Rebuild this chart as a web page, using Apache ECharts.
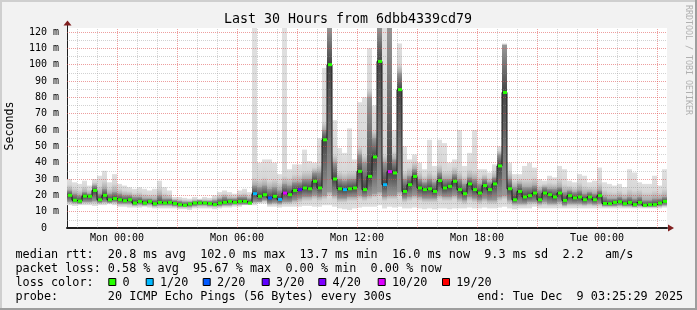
<!DOCTYPE html>
<html><head><meta charset="utf-8">
<script src="https://cdn.jsdelivr.net/npm/echarts@6/dist/echarts.min.js"></script>
<style>html,body{margin:0;padding:0;background:#f2f2f2}#c{width:697px;height:310px}</style>
</head><body><div id="c"></div>
<script>
// time: hours relative to Mon 00:00; left edge Sun 21:30, 15-minute steps
const T0 = -2.5;
const STEP = 0.25;

const median = [
  20, 17, 16.5, 19.5, 19.4, 23, 17.3, 20, 17.3, 18,
  17.3, 16.7, 17.3, 15.3, 16.3, 15.3, 16.3, 14.9, 15.7, 15.3,
  15.7, 15, 14.3, 13.9, 14.7, 15.3, 15.3, 15.3, 15, 14.3,
  15.3, 15.7, 16.3, 15.7, 16.3, 16.3, 15.3, 21, 19.4, 20.4,
  18.4, 19.4, 17.5, 21.4, 20.4, 23, 23.5, 24.5, 24, 28.6,
  24.5, 54, 100, 30, 24, 23.5, 24, 24.5, 34.7, 23.5,
  31.6, 43.5, 102, 26.5, 34.5, 33.7, 84.7, 22.4, 26.5, 31.6,
  24.5, 23.5, 24, 22.4, 29, 24.5, 25.5, 28.6, 23.5, 21,
  27, 23.5, 21.4, 26, 23.5, 27, 38, 83, 24, 17.3,
  22.4, 19, 19.8, 21.4, 17.3, 21.4, 20.4, 19, 21.4, 16.9,
  19.8, 18.4, 19, 17.3, 19, 17.3, 19.8, 15, 14.9, 15.7,
  16.1, 14.9, 15.7, 14.3, 15.7, 13.9, 14.3, 14.3, 15.3, 16.3
];
const smokeMax = [
  30, 28, 27, 29, 26, 30, 32, 35, 28, 33,
  27, 26, 25, 24, 25, 24, 23, 24, 29, 25,
  23, 19, 19, 18.5, 18, 19, 18, 19, 18.5, 20,
  22, 23, 22, 21, 23, 24, 22, 123, 40, 42,
  42, 40, 33, 123, 36, 39, 39, 48, 41, 40,
  55, 98, 123, 66, 49, 46, 61, 42, 77, 80,
  110, 75, 123, 123, 123, 60, 113, 50, 42, 45,
  40, 36, 54, 38, 54, 52, 40, 42, 60, 38,
  46, 60, 36, 36, 34, 39, 50, 113, 40, 33,
  33, 38, 40, 37, 30, 29, 32, 31, 38, 36,
  29, 28, 33, 32, 28, 29, 37, 28, 27, 26,
  27, 25, 36, 34, 28, 27, 27, 32, 26, 36
];
const smokeMin = [
  14, 13.5, 14, 14, 14, 13.5, 14, 14, 14.5, 14,
  13, 13, 12.5, 12.5, 12.5, 13, 12.5, 12, 12, 12,
  12, 12, 11.5, 11.5, 11, 12, 12, 12, 12, 11.5,
  12, 12.5, 12.5, 13, 13, 14, 14, 14, 15, 15,
  13, 13, 12.5, 13, 13, 13, 13, 13.5, 13.5, 13,
  13, 14, 14, 13, 12, 11.5, 11, 12, 12.5, 13,
  13, 13, 14, 12, 13, 12.5, 13, 12, 12, 12.5,
  12, 11.5, 12, 11.5, 12, 12, 11.5, 12, 12, 12,
  12.5, 12, 12, 12.5, 12, 12, 12.5, 13, 12, 11.5,
  12, 12, 12, 13, 12, 12, 12, 12, 12, 12,
  12, 12, 12, 12, 12, 12, 12, 12, 12, 12,
  12, 12, 12, 12, 12, 12, 12, 12, 12, 12.5
];
const coreHi = [
  23, 21, 20, 22, 21, 26, 21, 24, 21, 22,
  21, 20, 20, 19, 19, 18, 18, 17.5, 20, 18,
  18, 17, 16.5, 16, 16, 16.5, 17, 16.5, 16.5, 17,
  18, 19, 18, 18, 19, 19, 18, 26, 25, 26,
  24, 25, 23, 27, 26, 28, 28, 30, 30, 34,
  34, 60, 123, 40, 30, 29, 30, 30, 45, 40,
  80, 55, 123, 40, 123, 42, 95, 30, 32, 36,
  30, 28, 30, 28, 34, 30, 30, 33, 30, 27,
  31, 30, 27, 30, 28, 31, 45, 112, 30, 25,
  27, 25, 25, 26, 23, 25, 24, 24, 25, 22,
  23, 22, 23, 21, 22, 21, 23, 19, 18, 18,
  19, 18, 19, 18, 19, 17, 17, 18, 18, 19
];
const coreLo = [
  16, 15.5, 15, 16, 16, 16.5, 15.5, 16, 15.5, 16,
  15, 15, 15, 14, 14.5, 14, 14.5, 13.5, 14, 14,
  14, 13.5, 13, 13, 13, 13.5, 14, 14, 13.5, 13.5,
  13.5, 14, 14, 14.5, 14.5, 14.5, 14.5, 16, 16, 17,
  15, 15.5, 15, 16, 16, 17, 18, 19, 19, 20,
  19, 20, 22, 20, 18, 18, 19, 19, 20, 19,
  20, 21, 22, 19, 20, 20, 22, 18, 19, 20,
  19, 18, 18, 18, 20, 19, 19, 20, 18, 17,
  19, 18, 17, 18, 17, 17, 19, 20, 17, 15,
  15, 15, 16, 16, 15, 16, 15, 15, 16, 14,
  15, 15, 15, 14.5, 15, 14.5, 15, 13.5, 13.5, 13.5,
  14, 13.5, 13.5, 13, 13.5, 13, 13, 13, 13.5, 14
];
const lossCount = [
  0, 0, 0, 0, 0, 0, 0, 0, 0, 0,
  0, 0, 0, 0, 0, 0, 0, 0, 0, 0,
  0, 0, 0, 0, 0, 0, 0, 0, 0, 0,
  0, 0, 0, 0, 0, 0, 0, 1, 0, 0,
  2, 0, 1, 10, 0, 0, 3, 0, 0, 0,
  0, 0, 0, 0, 0, 1, 0, 0, 0, 0,
  0, 0, 0, 1, 10, 0, 0, 0, 0, 0,
  0, 0, 0, 0, 0, 0, 0, 0, 0, 0,
  0, 0, 0, 0, 0, 0, 0, 0, 0, 0,
  0, 0, 0, 0, 0, 0, 0, 0, 0, 0,
  0, 0, 0, 0, 0, 0, 0, 0, 0, 0,
  0, 0, 0, 0, 0, 0, 0, 0, 0, 0
];

const xLabelHours = [0, 6, 12, 18, 24];
const xLabels = ['Mon 00:00', 'Mon 06:00', 'Mon 12:00', 'Mon 18:00', 'Tue 00:00'];
const xGridHours = [-2,-1,0,1,2,3,4,5,6,7,8,9,10,11,12,13,14,15,16,17,18,19,20,21,22,23,24,25,26,27];
const yGridValues = [5,10,15,20,25,30,35,40,45,50,55,60,65,70,75,80,85,90,95,100,105,110,115,120];
const yTicks = [0,10,20,30,40,50,60,70,80,90,100,110,120];

const lossThresholds = [0, 1, 2, 3, 4, 10, 19];
const lossLabels = ['0', '1/20', '2/20', '3/20', '4/20', '10/20', '19/20'];
const lossColors = ['#26ff00', '#00b8ff', '#0059ff', '#5e00ff', '#7e00ff', '#dd00ff', '#ff0000'];

const titleText = 'Last 30 Hours from 6dbb4339cd79';
const legendLines = [
  'median rtt:  20.8 ms avg  102.0 ms max  13.7 ms min  16.0 ms now  9.3 ms sd  2.2   am/s',
  'packet loss: 0.58 % avg  95.67 % max  0.00 % min  0.00 % now',
  'loss color:',
  'probe:       20 ICMP Echo Pings (56 Bytes) every 300s            end: Tue Dec  9 03:25:29 2025'
];

const MONO = '"DejaVu Sans Mono", monospace';

function lossColor(n) {
  let c = lossColors[0];
  for (let k = 0; k < lossThresholds.length; k++) if (n >= lossThresholds[k]) c = lossColors[k];
  return c;
}

const smokeData = median.map((m, i) => [T0 + i * STEP, T0 + (i + 1) * STEP, smokeMin[i], coreLo[i], coreHi[i], smokeMax[i], m]);
const medData = median.map((m, i) => [T0 + (i + 0.5) * STEP, m, lossCount[i]]);

function renderSmoke(params, api) {
  const t0 = api.value(0), t1 = api.value(1);
  const lo = api.value(2), cl = api.value(3), ch = api.value(4), hi = api.value(5), md = api.value(6);
  const pTop = api.coord([t0, hi]);
  const pBot = api.coord([t1, lo]);
  const x = pTop[0], w = pBot[0] - pTop[0];
  const yTop = pTop[1], yBot = pBot[1];
  const clamp = v => Math.min(1, Math.max(0, v));
  const off = v => clamp((hi - v) / (hi - lo));
  const d1 = Math.min(5, (hi - ch) * 0.5), d2 = Math.min(2.5, (cl - lo) * 0.5);
  const stops = [
    { offset: 0, color: '#e0e0e0' },
    { offset: off(ch + d1), color: '#d6d6d6' },
    { offset: off(ch), color: '#a8a8a8' },
    { offset: off(cl), color: '#a8a8a8' },
    { offset: off(cl - d2), color: '#d6d6d6' },
    { offset: 1, color: '#e0e0e0' }
  ];
  const cTop = api.coord([t0, ch])[1], cBot = api.coord([t0, cl])[1];
  const mY = api.coord([t0, md])[1];
  const cOff = clamp((mY - cTop) / (cBot - cTop));
  return {
    type: 'group',
    children: [
      { type: 'rect', shape: { x: x, y: yTop, width: w, height: yBot - yTop },
        style: { fill: { type: 'linear', x: 0, y: 0, x2: 0, y2: 1, colorStops: stops } } },
      { type: 'rect', shape: { x: x, y: cTop, width: w, height: cBot - cTop },
        style: { fill: { type: 'linear', x: 0, y: 0, x2: 0, y2: 1, colorStops: [
          { offset: 0, color: '#989898' }, { offset: cOff, color: '#454545' }, { offset: 1, color: '#989898' } ] } } }
    ]
  };
}

function renderMed(params, api) {
  const c = api.coord([api.value(0), api.value(1)]);
  return { type: 'rect', shape: { x: Math.round(c[0]) - 2, y: c[1] - 1.5, width: 4, height: 3 },
    style: { fill: lossColor(api.value(2)) } };
}

const gridLines = [];
yGridValues.forEach(v => gridLines.push({ yAxis: v, lineStyle: { color: v % 10 === 0 ? 'rgba(222,79,79,0.55)' : 'rgba(143,143,143,0.4)', type: [1, 1], width: 1 } }));
xGridHours.forEach(h => gridLines.push({ xAxis: h, lineStyle: { color: h % 3 === 0 ? 'rgba(222,79,79,0.55)' : 'rgba(143,143,143,0.4)', type: [1, 1], width: 1 } }));

const graphic = [
  { type: 'rect', shape: { x: 0, y: 0, width: 697, height: 2 }, style: { fill: '#cfcfcf' }, silent: true },
  { type: 'rect', shape: { x: 0, y: 0, width: 2, height: 310 }, style: { fill: '#cfcfcf' }, silent: true },
  { type: 'rect', shape: { x: 0, y: 308, width: 697, height: 2 }, style: { fill: '#9e9e9e' }, silent: true },
  { type: 'rect', shape: { x: 695, y: 0, width: 2, height: 310 }, style: { fill: '#9e9e9e' }, silent: true },
  { type: 'text', x: 348, y: 20, style: { text: titleText, fontFamily: MONO, fontSize: 13.3, fill: '#000', align: 'center', verticalAlign: 'middle' } },
  { type: 'text', x: 10, y: 126, rotation: Math.PI / 2, style: { text: 'Seconds', fontFamily: MONO, fontSize: 11.6, fill: '#000', align: 'center', verticalAlign: 'middle' } },
  { type: 'text', x: 688, y: 60, rotation: -Math.PI / 2, style: { text: 'RRDTOOL / TOBI OETIKER', fontFamily: MONO, fontSize: 8.3, fill: '#b0b0b0', align: 'center', verticalAlign: 'middle' } },
  { type: 'line', shape: { x1: 67.5, y1: 25, x2: 67.5, y2: 28.5 }, style: { stroke: '#1f1f1f', lineWidth: 1 } },
  { type: 'polygon', shape: { points: [[63.5, 25.5], [71.5, 25.5], [67.5, 20.5]] }, style: { fill: '#801f1f' } },
  { type: 'polygon', shape: { points: [[668, 224.5], [668, 231.5], [674, 228]] }, style: { fill: '#801f1f' } }
];
const lineY = [254.5, 268.7, 282.7, 296.8];
legendLines.forEach((t, k) => graphic.push({ type: 'text', x: 15.5, y: lineY[k],
  style: { text: t, fontFamily: MONO, fontSize: 11.8, fill: '#000', align: 'left', verticalAlign: 'middle' } }));
const boxX = [108.3, 145.7, 202.7, 261.7, 318.3, 377.7, 442];
lossLabels.forEach((lab, k) => {
  graphic.push({ type: 'rect', shape: { x: boxX[k] + 0.5, y: 278.5, width: 7, height: 7 }, style: { fill: lossColors[k], stroke: '#000', lineWidth: 1 } });
  graphic.push({ type: 'text', x: boxX[k] + 14.2, y: lineY[2], style: { text: lab, fontFamily: MONO, fontSize: 11.8, fill: '#000', align: 'left', verticalAlign: 'middle' } });
});

const chart = echarts.init(document.getElementById('c'), null, { renderer: 'canvas' });
chart.setOption({
  animation: false,
  backgroundColor: '#f2f2f2',
  grid: { left: 67, top: 28, width: 600, height: 200, show: true, backgroundColor: '#ffffff', borderWidth: 0 },
  xAxis: {
    type: 'value', min: T0, max: T0 + median.length * STEP,
    axisLine: { show: true, onZero: false, lineStyle: { color: '#1f1f1f', width: 2 } },
    axisTick: { show: false },
    splitLine: { show: false },
    axisLabel: { customValues: xLabelHours, formatter: v => xLabels[xLabelHours.indexOf(v)] || '',
      fontFamily: MONO, fontSize: 10, color: '#000', margin: 5 }
  },
  yAxis: {
    type: 'value', min: 0, max: 122.45, interval: 10,
    axisLine: { show: true, onZero: false, lineStyle: { color: '#1f1f1f', width: 1 } },
    axisTick: { show: false },
    splitLine: { show: false },
    axisLabel: { formatter: v => (yTicks.indexOf(v) < 0 ? '' : (v === 0 ? '0  ' : v + ' m')),
      fontFamily: MONO, fontSize: 10, color: '#000', margin: 8 }
  },
  series: [
    { type: 'custom', name: 'smoke', renderItem: renderSmoke, data: smokeData, clip: true, z: 2,
      encode: { x: [0, 1], y: [2, 5] }, silent: true },
    { type: 'line', name: 'median', data: medData.map(d => [d[0], d[1]]), step: 'middle', symbol: 'none', z: 6,
      lineStyle: { color: '#1a1a1a', width: 1 }, silent: true,
      markLine: { silent: true, symbol: ['none', 'none'], label: { show: false }, z: 5, animation: false,
        emphasis: { disabled: true }, data: gridLines } },
    { type: 'custom', name: 'loss', renderItem: renderMed, data: medData, clip: true, z: 8,
      encode: { x: 0, y: 1 }, silent: true }
  ],
  graphic: graphic
});
</script></body></html>
